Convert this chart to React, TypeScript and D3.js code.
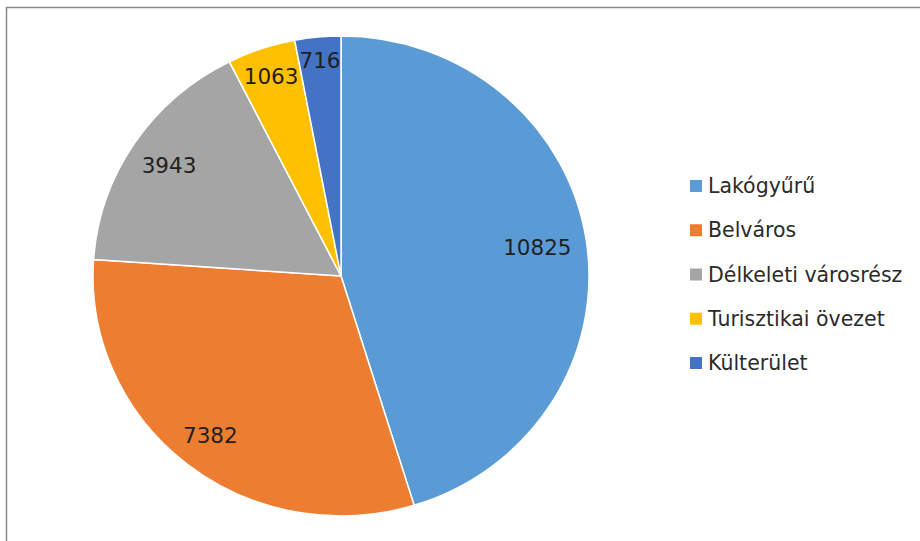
import React, { useEffect, useRef } from 'react';
import * as d3 from 'd3';

const categories = ['Lakógyűrű', 'Belváros', 'Délkeleti városrész', 'Turisztikai övezet', 'Külterület'];
const values = [10825, 7382, 3943, 1063, 716];
const colors = ['#5B9BD5', '#ED7D31', '#A5A5A5', '#FFC000', '#4472C4'];

const PieChart = () => {
  const svgRef = useRef<SVGSVGElement>(null);

  useEffect(() => {
    const width = 920;
    const height = 541;
    const cx = 341;
    const cy = 276;
    const r = 240;
    const sx = 248 / 240; // pie is slightly stretched horizontally
    const pad = 14;

    document.body.style.margin = '0';

    const svg = d3.select(svgRef.current)
      .attr('width', width)
      .attr('height', height);
    svg.selectAll('*').remove();

    // Chart frame (runs off the right and bottom of the picture)
    svg.append('rect')
      .attr('x', 6.5)
      .attr('y', 7.5)
      .attr('width', 1000)
      .attr('height', 1000)
      .attr('fill', 'white')
      .attr('stroke', '#8a8a8a')
      .attr('stroke-width', 1.5);

    const data = categories.map((c, i) => ({ name: c, value: values[i], color: colors[i] }));

    const pie = d3.pie<any>()
      .sort(null)
      .value(d => d.value);
    const arcs = pie(data);

    const arc = d3.arc<any>()
      .innerRadius(0)
      .outerRadius(r);

    const g = svg.append('g')
      .attr('transform', `translate(${cx},${cy}) scale(${sx},1)`);

    g.selectAll('path')
      .data(arcs)
      .enter()
      .append('path')
      .attr('d', arc)
      .attr('fill', d => d.data.color)
      .attr('stroke', 'white')
      .attr('stroke-width', 1.5)
      .attr('vector-effect', 'non-scaling-stroke');

    // Data labels, placed inside each slice near the edge ("best fit")
    const labels = svg.append('g')
      .attr('transform', `translate(${cx},${cy})`);

    arcs.forEach(d => {
      const t = labels.append('text')
        .attr('text-anchor', 'middle')
        .attr('dominant-baseline', 'central')
        .style('font-family', '"DejaVu Sans", sans-serif')
        .style('font-size', '21.5px')
        .attr('fill', '#1f1f1f')
        .text(d.data.value);
      const w = (t.node() as SVGTextElement).getComputedTextLength();
      const h = 15;
      const mid = (d.startAngle + d.endAngle) / 2;
      const dx = Math.sin(mid);
      const dy = -Math.cos(mid);
      const proj = (w / 2 / sx) * Math.abs(dx) + (h / 2) * Math.abs(dy);
      const rr = r - pad - proj;
      t.attr('x', dx * rr * sx).attr('y', dy * rr);
    });

    // Legend
    const legendY = d3.scalePoint<string>()
      .domain(categories)
      .range([186, 363]);

    const legend = svg.append('g');
    data.forEach(d => {
      const y = legendY(d.name)!;
      legend.append('rect')
        .attr('x', 690)
        .attr('y', y - 6)
        .attr('width', 12)
        .attr('height', 12)
        .attr('fill', d.color);
      legend.append('text')
        .attr('x', 708)
        .attr('y', y)
        .attr('dominant-baseline', 'central')
        .style('font-family', '"DejaVu Sans", sans-serif')
        .style('font-size', '20.5px')
        .attr('fill', '#2b2b2b')
        .text(d.name);
    });
  }, []);

  return <svg ref={svgRef} style={{ display: 'block' }}></svg>;
};

export default function App() {
  return <PieChart />;
}
